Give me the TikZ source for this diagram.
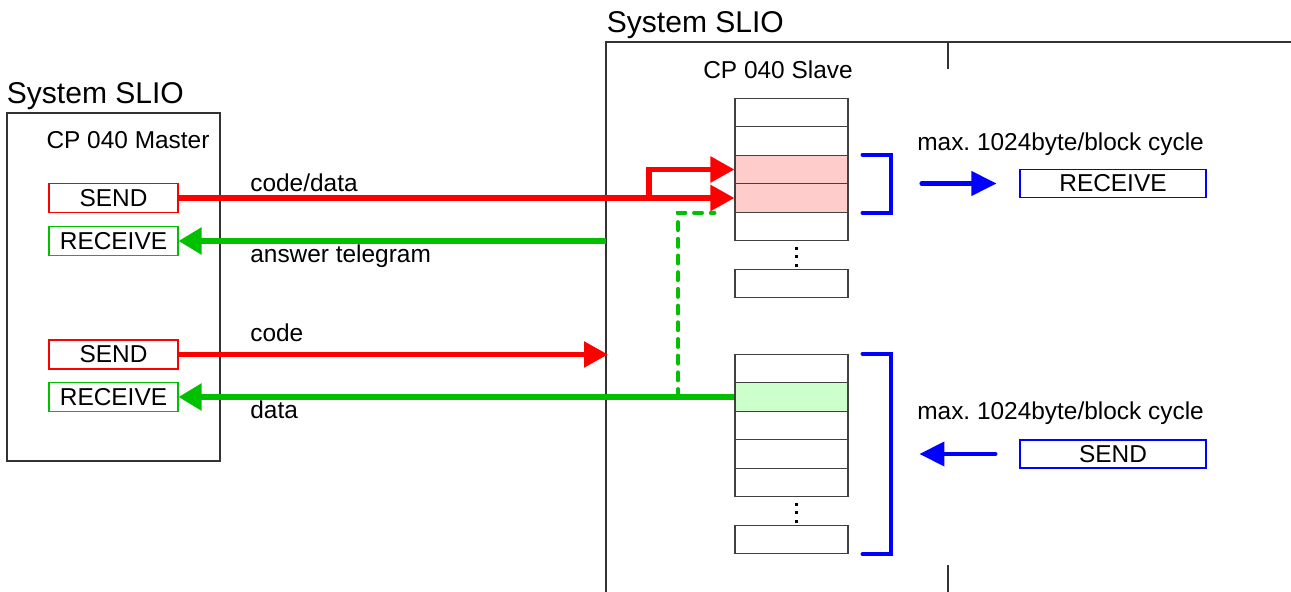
\documentclass[tikz,border=0pt]{standalone}
\usepackage{fontspec}
\setmainfont{Liberation Sans}
\usepackage{tikz}
\usetikzlibrary{arrows.meta,positioning}

\definecolor{slgreen}{RGB}{0,192,0}
\definecolor{rowred}{RGB}{255,204,204}
\definecolor{rowgreen}{RGB}{204,255,204}

\begin{document}
\begin{tikzpicture}[>=Latex,
  txt/.style={inner sep=0pt,font=\fontsize{13.9}{16}\selectfont},
  title/.style={inner sep=0pt,font=\fontsize{17.1}{20}\selectfont},
  frame/.style={draw=black!80,line width=0.7pt},
  cell/.style={draw=black!75,line width=0.6pt,minimum width=2.26cm,minimum height=0.57cm,inner sep=0pt},
  port/.style={line width=0.6pt,minimum width=2.58cm,minimum height=0.58cm,inner sep=0pt,font=\fontsize{13.9}{16}\selectfont},
  redarrow/.style={draw=red,line width=3pt,-{Triangle[length=4.8mm,width=5mm]}},
  greenarrow/.style={draw=slgreen,line width=3pt,-{Triangle[length=4.6mm,width=5.2mm]}},
  greendash/.style={draw=slgreen,line width=2.3pt,line cap=round,dash pattern=on 4.5pt off 5pt},
  bluearrow/.style={draw=blue,line width=2.3pt,line cap=round,-{Triangle[length=5mm,width=4.8mm]}},
  bracket/.style={draw=blue,line width=2.3pt,line cap=round}]
\useasboundingbox (0,0) rectangle (25.82,-11.84);

% master side
\node[title,anchor=base west] (sysL) at (0.13,-2.08) {System SLIO};
\node[frame,minimum width=4.26cm,minimum height=6.96cm,inner sep=0pt] (master) at (2.27,-5.74) {};
\node[txt,anchor=base] (mastT) at (2.56,-2.98) {CP 040 Master};
\node[port,draw=red] (send1) at (2.27,-3.96) {SEND};
\node[port,draw=slgreen] (recv1) at (2.27,-4.82) {RECEIVE};
\node[port,draw=red] (send2) at (2.27,-7.09) {SEND};
\node[port,draw=slgreen] (recv2) at (2.27,-7.94) {RECEIVE};

% slave side
\node[title,anchor=base west] (sysR) at (12.13,-0.66) {System SLIO};
\draw[frame] (12.12,-11.84) -- (12.12,-0.84) -- (25.82,-0.84);
\draw[frame] (18.96,-0.84) -- (18.96,-1.38);
\draw[frame] (18.96,-11.30) -- (18.96,-11.84);
\node[txt,anchor=base] (slvT) at (15.56,-1.58) {CP 040 Slave};

\node[cell] (r1) at (15.83,-2.25) {};
\node[cell] (r2) at (15.83,-2.82) {};
\node[cell,fill=rowred] (r3) at (15.83,-3.39) {};
\node[cell,fill=rowred] (r4) at (15.83,-3.96) {};
\node[cell] (r5) at (15.83,-4.53) {};
\node[cell] (rl) at (15.83,-5.67) {};

\node[cell] (s1) at (15.83,-7.37) {};
\node[cell,fill=rowgreen] (s2) at (15.83,-7.94) {};
\node[cell] (s3) at (15.83,-8.51) {};
\node[cell] (s4) at (15.83,-9.08) {};
\node[cell] (s5) at (15.83,-9.65) {};
\node[cell] (sl) at (15.83,-10.79) {};

\foreach \y in {-5.00,-5.17,-5.35,-10.12,-10.29,-10.47}
  \fill (15.89,\y) rectangle ++(0.06,0.06);

\draw[bracket] ([xshift=0.28cm]r3.north east) -- ++(0.56,0) |- ([xshift=0.28cm]r4.south east);
\draw[bracket] ([xshift=0.28cm]s1.north east) -- ++(0.56,0) |- ([xshift=0.28cm]sl.south east);

% transfers
\coordinate (fork) at (12.98,-3.96);
\coordinate (fr1) at (12.12,-4.82);
\coordinate (fr2) at (12.16,-7.09);
\coordinate (tap) at (13.56,-7.94);
\draw[greendash] (tap) |- ([xshift=-0.4cm]r4.south west);
\draw[redarrow] (send1.east) -- (r4.west);
\draw[redarrow] (fork) |- (r3.west);
\draw[greenarrow] (fr1) -- (recv1.east);
\draw[redarrow] (send2.east) -- (fr2);
\draw[greenarrow] (s2.west) -- (recv2.east);

\node[txt,anchor=base west] (lblA) at (5.0,-3.83) {code/data};
\node[txt,anchor=base west] (lblB) at (5.0,-5.26) {answer telegram};
\node[txt,anchor=base west] (lblC) at (5.0,-6.84) {code};
\node[txt,anchor=base west] (lblD) at (5.0,-8.38) {data};

% block cycle
\node[txt,anchor=base west] (maxA) at (18.34,-3.02) {max.\ 1024byte/block cycle};
\node[port,draw=blue,minimum width=3.72cm,minimum height=0.56cm] (recvS) at (22.26,-3.67) {RECEIVE};
\draw[bluearrow] ([xshift=-1.96cm]recvS.west) -- ([xshift=-0.46cm]recvS.west);

\node[txt,anchor=base west] (maxB) at (18.34,-8.40) {max.\ 1024byte/block cycle};
\node[port,draw=blue,minimum width=3.72cm,minimum height=0.56cm] (sendS) at (22.26,-9.08) {SEND};
\draw[bluearrow] ([xshift=-0.48cm]sendS.west) -- ([xshift=-2.0cm]sendS.west);
\end{tikzpicture}
\end{document}
